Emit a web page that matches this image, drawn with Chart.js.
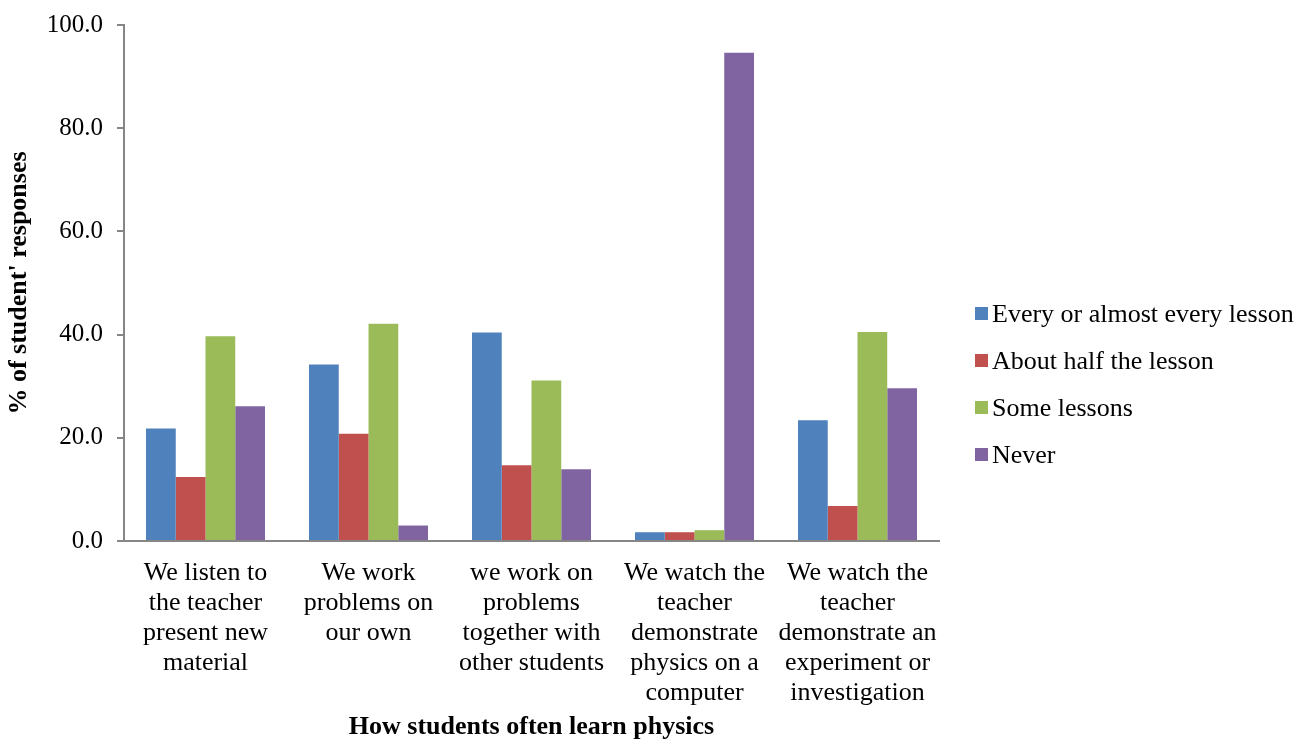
<!DOCTYPE html>
<html>
<head>
<meta charset="utf-8">
<script src="https://cdn.jsdelivr.net/npm/chart.js@4"></script>
<style>
  body { margin: 0; background: #fff; }
  #wrap { position: relative; width: 1295px; height: 740px; }
  #legend { position: absolute; left: 975px; top: 299px; font-family: 'Liberation Serif', 'Times New Roman', serif; font-size: 26px; color: #000; white-space: nowrap; }
  .item { height: 47px; display: flex; align-items: flex-start; line-height: 30px; }
  .box { width: 13px; height: 13px; margin-right: 4px; margin-top: 8px; flex: none; }
</style>
</head>
<body>
<div id="wrap">
  <canvas id="learnChart"></canvas>
  <div id="legend"></div>
</div>
<script>
const categories = [
    ["We listen to", "the teacher", "present new", "material"],
    ["We work", "problems on", "our own"],
    ["we work on", "problems", "together with", "other students"],
    ["We watch the", "teacher", "demonstrate", "physics on a", "computer"],
    ["We watch the", "teacher", "demonstrate an", "experiment or", "investigation"]
];
const seriesNames = ["Every or almost every lesson", "About half the lesson", "Some lessons", "Never"];
const everyLesson = [21.8, 34.2, 40.4, 1.7, 23.4];
const halfLesson = [12.4, 20.8, 14.7, 1.7, 6.8];
const someLessons = [39.7, 42.1, 31.1, 2.1, 40.5];
const never = [26.1, 3.0, 13.9, 94.6, 29.6];
const yTicks = [0, 20, 40, 60, 80, 100];
const barColors = ["#4F81BD", "#C0504D", "#9BBB59", "#8064A2"];

Chart.defaults.font.family = "'Liberation Serif', 'Times New Roman', serif";
Chart.defaults.color = "#000";

const ctx = document.getElementById('learnChart').getContext('2d');
const allSeries = [everyLesson, halfLesson, someLessons, never];

const learnChart = new Chart(ctx, {
    type: "bar",
    data: {
        labels: categories,
        datasets: allSeries.map((vals, i) => ({
            label: seriesNames[i],
            data: vals,
            backgroundColor: barColors[i],
            borderWidth: 0
        }))
    },
    options: {
        responsive: true,
        maintainAspectRatio: false,
        animation: false,
        layout: { padding: { top: 25, right: 356, bottom: 0, left: 0 } },
        datasets: { bar: { barPercentage: 1, categoryPercentage: 0.73 } },
        plugins: {
            legend: { display: false },
            tooltip: { enabled: false }
        },
        scales: {
            x: {
                grid: { display: true, drawOnChartArea: false, drawTicks: false, color: "rgba(0,0,0,0)" },
                border: { color: "#868686", width: 2 },
                ticks: { font: { size: 26, lineHeight: 1.154 }, padding: 17, maxRotation: 0, autoSkip: false },
                title: { display: true, text: "How students often learn physics", font: { size: 26, weight: "bold", lineHeight: 1 }, padding: { top: 4, bottom: 0 } },
                afterFit: s => { s.height = 199; }
            },
            y: {
                min: 0,
                max: 100,
                afterBuildTicks: s => { s.ticks = yTicks.map(v => ({ value: v })); },
                grid: { display: true, drawOnChartArea: false, drawTicks: true, tickLength: 7, color: "#868686", lineWidth: 2 },
                border: { color: "#868686", width: 2 },
                ticks: { font: { size: 25, lineHeight: 0.8 }, padding: 14, callback: v => v.toFixed(1) },
                title: { display: true, text: "% of student' responses", font: { size: 26, weight: "bold", lineHeight: 1.2 }, padding: { top: 4, bottom: 0 } },
                afterFit: s => { s.width = 124; }
            }
        }
    }
});

// legend built from the datasets
const legendDiv = document.getElementById("legend");
seriesNames.forEach((name, i) => {
    legendDiv.innerHTML += `<div class="item"><span class="box" style="background:${barColors[i]}"></span><span>${name}</span></div>`;
});
</script>
</body>
</html>
